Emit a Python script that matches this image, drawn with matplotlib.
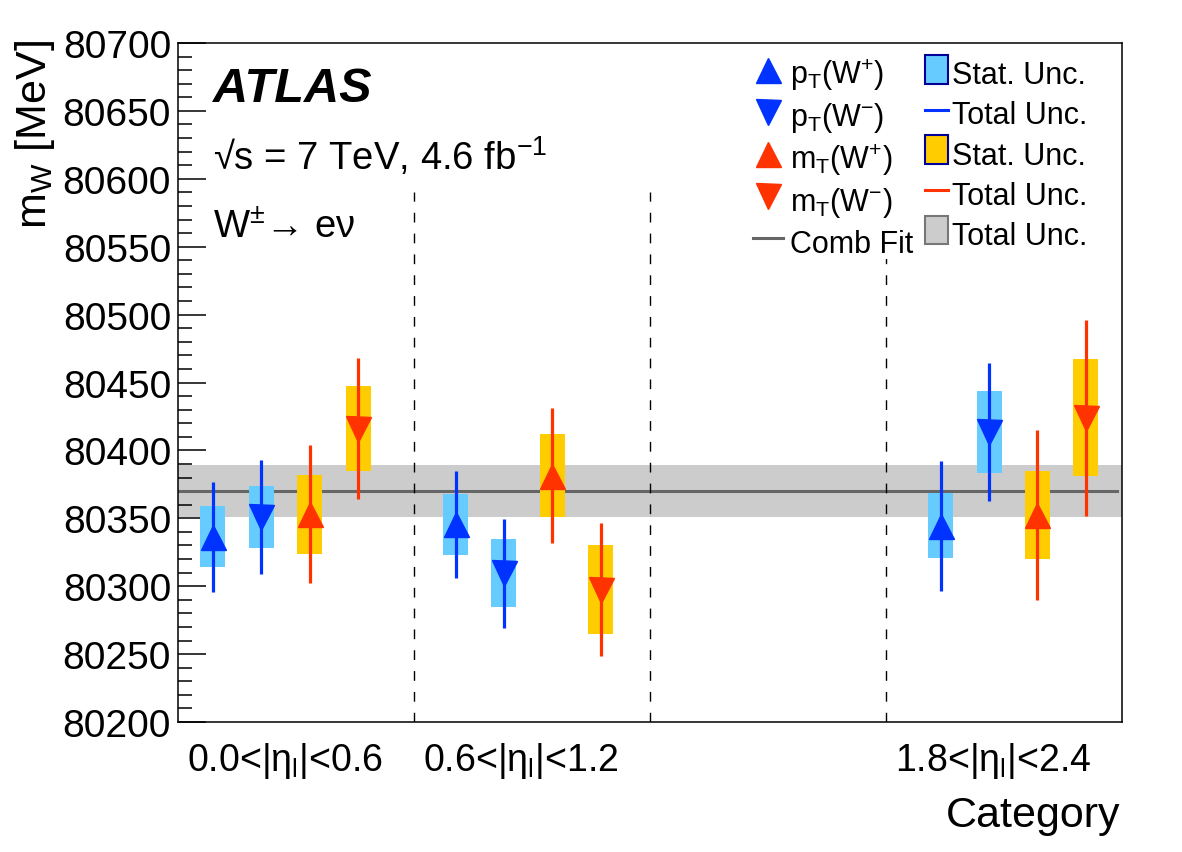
import numpy as np
import matplotlib
matplotlib.use("Agg")
import matplotlib.pyplot as plt
from matplotlib.lines import Line2D
from matplotlib.patches import Patch, Rectangle
from matplotlib.legend_handler import HandlerPatch
from matplotlib.ticker import MultipleLocator

plt.rcParams['font.family'] = ['Liberation Sans', 'DejaVu Sans']
plt.rcParams['mathtext.default'] = 'regular'

# categories (the 1.2-1.8 bin has no measurement)
categories = ["0.0<|$\\eta_{l}$|<0.6", "0.6<|$\\eta_{l}$|<1.2", "", "1.8<|$\\eta_{l}$|<2.4"]

# m_W values [MeV], statistical and total uncertainties
pt_wp = [80336.5, 80345.5, np.nan, 80344.5]
pt_wp_stat = [22.5, 22.5, np.nan, 24.0]
pt_wp_tot = [40.5, 39.5, np.nan, 48.0]

pt_wm = [80351.0, 80309.5, np.nan, 80413.5]
pt_wm_stat = [23.0, 25.0, np.nan, 30.0]
pt_wm_tot = [42.0, 40.0, np.nan, 51.0]

mt_wp = [80353.0, 80381.5, np.nan, 80352.5]
mt_wp_stat = [29.0, 30.5, np.nan, 32.5]
mt_wp_tot = [51.0, 49.5, np.nan, 62.5]

mt_wm = [80416.0, 80297.5, np.nan, 80424.0]
mt_wm_stat = [31.5, 33.0, np.nan, 43.0]
mt_wm_tot = [52.0, 49.0, np.nan, 72.0]

comb_fit = 80370.0
comb_unc = 19.0

blue = '#0033ff'
lblue = '#66ccff'
red = '#ff3300'
yellow = '#ffcc00'

series = [
    (pt_wp, pt_wp_stat, pt_wp_tot, '^', blue, lblue),
    (pt_wm, pt_wm_stat, pt_wm_tot, 'v', blue, lblue),
    (mt_wp, mt_wp_stat, mt_wp_tot, '^', red, yellow),
    (mt_wm, mt_wm_stat, mt_wm_tot, 'v', red, yellow),
]

fig = plt.figure(figsize=(11.82, 8.53), dpi=100)
ax = fig.add_axes([0.1506, 0.1524, 0.7986, 0.796])

ncat = len(categories)
cat_idx = np.arange(ncat)

# combined fit band + line
ax.axhspan(comb_fit - comb_unc, comb_fit + comb_unc, color='#cccccc', lw=0, zorder=1)
ax.plot([0, ncat - 0.02], [comb_fit, comb_fit], color='#666666', lw=2.2, zorder=2)

# bin separators
for b in range(1, ncat):
    ax.plot([b, b], [80200, 80590], color='black', lw=1, dashes=(7, 8), zorder=2)

box_w = 0.106
for j, (val, stat, tot, mk, col, scol) in enumerate(series):
    val = np.array(val)
    stat = np.array(stat)
    tot = np.array(tot)
    x = cat_idx + 0.148 + 0.028 * cat_idx + 0.205 * j
    ax.bar(x, 2 * stat, bottom=val - stat, width=box_w, color=scol, lw=0, zorder=3)
    ax.vlines(x, val - tot, val + tot, color=col, lw=2.3, zorder=4)
    ax.plot(x, val, ls='none', marker=mk, ms=18, color=col, mec=col, zorder=5)

ax.set_xlim(0, ncat)
ax.set_ylim(80200, 80700)
ax.yaxis.set_major_locator(MultipleLocator(50))
ax.yaxis.set_minor_locator(MultipleLocator(10))
ax.tick_params(axis='y', which='major', direction='in', length=20, width=1.1,
               labelsize=28, pad=5)
ax.tick_params(axis='y', which='minor', direction='in', length=10, width=1.1)
ax.set_xticks(cat_idx + 0.5 - 0.045)
ax.set_xticklabels(categories)
ax.tick_params(axis='x', length=0, labelsize=27, pad=13)
for s in ax.spines.values():
    s.set_linewidth(1.1)

fig.text(0.03, 0.953, "m$_{W}$ [MeV]", rotation=90, ha='center', va='top', fontsize=31)
fig.text(0.948, 0.03, "Category", ha='right', va='baseline', fontsize=31)

ax.text(0.037, 0.9146, "ATLAS", transform=ax.transAxes, fontsize=35,
        fontweight='bold', fontstyle='italic', va='baseline')
ax.text(0.037, 0.815, "\u221as = 7 TeV, 4.6 fb$^{-1}$", transform=ax.transAxes,
        fontsize=27.5, va='baseline')
ax.text(0.037, 0.714, "W$^{\u00b1}$\u2192 e\u03bd", transform=ax.transAxes,
        fontsize=27.5, va='baseline')


def box_patch(legend, orig_handle, xdescent, ydescent, width, height, fontsize):
    h = 0.93 * fontsize
    return Rectangle((-xdescent, -ydescent + (height - h) / 2 + 0.12 * fontsize), width, h)


leg_fs = 22
# legends
h1 = [
    Line2D([], [], ls='none', marker='^', ms=18, color=blue),
    Line2D([], [], ls='none', marker='v', ms=18, color=blue),
    Line2D([], [], ls='none', marker='^', ms=18, color=red),
    Line2D([], [], ls='none', marker='v', ms=18, color=red),
    Line2D([], [], color='#666666', lw=2.2),
]
l1 = ["p$_{T}$(W$^{+}$)", "p$_{T}$(W$^{-}$)", "m$_{T}$(W$^{+}$)", "m$_{T}$(W$^{-}$)", "Comb Fit"]
leg1 = fig.legend(h1, l1, loc='upper left', bbox_to_anchor=(0.637, 0.933),
                  frameon=True, facecolor='white', edgecolor='none', framealpha=1,
                  fancybox=False, fontsize=leg_fs, borderpad=0, borderaxespad=0,
                  handlelength=1.0, handleheight=1.32, handletextpad=0.22,
                  labelspacing=0.2)

h2 = [
    Patch(facecolor=lblue, edgecolor='#000099', lw=1.5),
    Line2D([], [], color=blue, lw=2.2),
    Patch(facecolor=yellow, edgecolor='#000099', lw=1.5),
    Line2D([], [], color=red, lw=2.2),
    Patch(facecolor='#cccccc', edgecolor='#777777', lw=1.5),
]
l2 = ["Stat. Unc.", "Total Unc.", "Stat. Unc.", "Total Unc.", "Total Unc."]
leg2 = fig.legend(h2, l2, loc='upper left', bbox_to_anchor=(0.7826, 0.933),
                  frameon=False, fontsize=leg_fs, borderpad=0, borderaxespad=0,
                  handlelength=0.75, handleheight=1.32, handletextpad=0.13,
                  labelspacing=0.2, handler_map={Patch: HandlerPatch(patch_func=box_patch)})

fig.savefig("out.png", dpi=100)
